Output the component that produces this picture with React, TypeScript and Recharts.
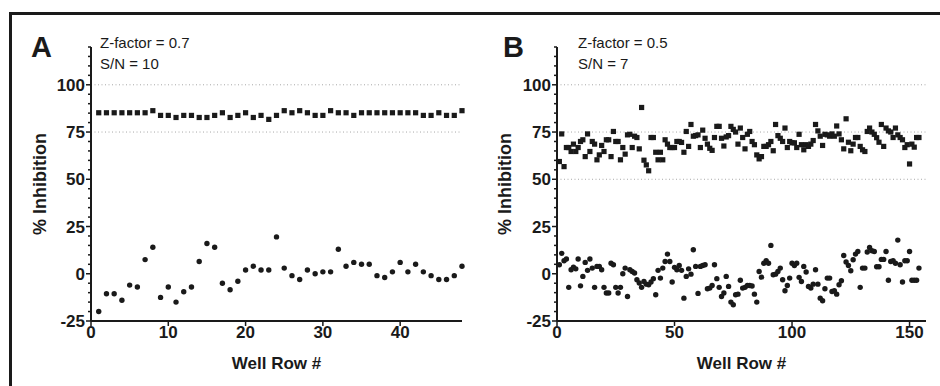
import React from 'react';
import { ScatterChart, Scatter, XAxis, YAxis, ReferenceLine } from 'recharts';

// panel A: 48 well rows
const highA = [
  85.2, 85.2, 85.2, 85.2, 85.2, 85.2, 85.2, 86.3, 83.8, 83.8,
  82.7, 83.8, 83.8, 82.7, 82.7, 83.8, 85.2, 82.7, 83.8, 85.2,
  82.7, 83.8, 81.7, 83.8, 86.3, 85.2, 86.3, 85.2, 83.8, 83.8,
  86.3, 85.2, 85.2, 83.8, 85.2, 85.2, 85.2, 85.2, 85.2, 85.2,
  85.2, 85.2, 83.8, 83.8, 85.2, 83.8, 83.8, 86.3,
];
const lowA = [
  -20, -10.6, -10.6, -14, -6, -7, 7.5, 14, -12.5, -7,
  -15, -9.5, -7, 6.5, 16, 14, -5, -8.5, -4, 2,
  4, 2, 2, 19.5, 3, -1, -3, 2, 0, 1,
  1, 13, 4, 6, 5, 5, -1, -2, 1, 6,
  1, 5, 1, -1, -3, -3, -1, 4,
];

// panel B: 154 well rows
const highB = [
  59.4, 74.0, 56.7, 66.8, 66.8, 64.7, 68.6, 64.7, 66.8, 70.0,
  70.9, 62.0, 74.0, 64.7, 70.0, 68.6, 60.3, 62.9, 67.9, 64.7,
  70.9, 70.9, 62.0, 75.3, 70.0, 70.0, 60.3, 66.8, 63.3, 73.5,
  73.8, 66.8, 72.8, 72.1, 66.1, 88.0, 60.1, 57.6, 54.5, 72.1,
  72.1, 64.3, 60.3, 64.3, 60.3, 70.9, 68.6, 66.8, 66.8, 66.8,
  70.0, 70.0, 69.5, 64.3, 75.3, 67.4, 79.0, 72.8, 73.1, 73.5,
  66.8, 76.0, 71.7, 68.6, 66.4, 65.3, 72.1, 78.0, 78.0, 71.7,
  67.6, 72.4, 73.1, 78.0, 76.4, 75.0, 68.6, 77.1, 72.1, 66.1,
  73.8, 75.3, 70.0, 68.3, 62.9, 60.8, 62.0, 67.4, 67.4, 68.3,
  70.0, 65.1, 79.0, 73.1, 71.7, 70.0, 77.1, 66.8, 70.0, 69.3,
  69.3, 66.8, 73.8, 68.3, 65.6, 68.3, 67.4, 68.6, 70.5, 79.0,
  75.6, 72.8, 67.9, 73.8, 73.5, 72.8, 74.0, 72.8, 78.2, 74.0,
  70.9, 66.1, 82.0, 69.6, 65.1, 68.6, 72.1, 72.1, 67.4, 65.6,
  64.7, 75.3, 77.1, 75.0, 73.8, 72.0, 69.6, 79.0, 67.4, 77.1,
  75.6, 75.0, 72.1, 77.1, 73.5, 72.1, 70.9, 66.8, 68.3, 58.1,
  68.6, 67.0, 72.1, 72.1,
];
const lowB = [
  4.8, 10.8, 6.9, 7.8, -7.2, 2.1, 3.5, 2.6, 7.8, -6.4,
  -1.4, 6.0, 1.8, 7.8, 3.0, -7.2, 3.9, 3.9, 2.1, -7.2,
  -10.2, -10.2, 5.6, 4.8, -7.2, -10.2, -7.2, 0, 3.0, -12.0,
  2.1, 1.2, 0.4, -3.2, -4.9, -7.2, -4.1, -5.5, -5.8, -4.4,
  -2.6, -11.1, 1.8, -2.3, 3.0, 6.5, 10.4, 6.5, -4.4, 3.4,
  2.1, 4.4, 1.8, -12.9, -1.4, 2.6, -0.2, 12.7, 3.9, -10.4,
  3.9, 4.4, 4.8, -7.9, -7.6, -6.2, 4.8, -2.6, -7.2, -12.0,
  -10.2, -1.4, -6.7, -15.0, -16.4, -11.1, -10.8, -3.4, -7.6, -7.2,
  -6.2, -6.2, -6.5, -10.8, -15.0, 1.2, -1.8, 5.6, 6.9, 5.6,
  15.0, -0.5, -0.2, 1.2, 3.0, -3.2, -9.0, -6.2, -2.3, 5.6,
  4.4, 5.6, -1.9, -4.1, 3.9, 0.9, -6.7, -7.6, -5.5, 2.1,
  -5.5, -12.9, -14.3, -7.9, -2.3, -2.3, -9.4, -9.0, -10.8, -5.8,
  -3.7, 9.7, 6.2, 4.4, 1.6, 7.4, 10.4, 11.8, -7.2, 3.0,
  3.0, 11.5, 13.9, 12.2, 11.8, 3.7, 3.7, 7.6, 7.6, 11.8,
  -3.4, 6.5, 6.9, 5.6, 17.8, 4.8, -4.4, 6.9, 6.9, 11.8,
  -3.4, -3.4, -3.4, 3.0,
];

const yTicks = [-25, -20, -15, -10, -5, 0, 5, 10, 15, 20, 25, 30, 35, 40, 45, 50, 55, 60, 65, 70, 75, 80, 85, 90, 95, 100, 105, 110, 115, 120];
const xTicksA = [0, 10, 20, 30, 40];
const xTicksB = [0, 50, 100, 150];

const FONT = '"Liberation Sans", Arial, Helvetica, sans-serif';
const INK = '#1a1a1a';

const toPoints = (vals: number[]) => vals.map((v, i) => ({ row: i + 1, val: v }));

const Square = (p: any) => <rect x={p.cx - 2.6} y={p.cy - 2.6} width={5.2} height={5.2} fill={INK} />;
const Dot = (p: any) => <circle cx={p.cx} cy={p.cy} r={2.7} fill={INK} />;

// major ticks every 25 with labels, minor ticks every 5
const YTick = (props: any) => {
  const { x, y, payload } = props;
  const major = payload.value % 25 === 0 && payload.value <= 100;
  return (
    <g>
      <line x1={x} x2={x - (major ? 5 : 3)} y1={y} y2={y} stroke={INK} strokeWidth={1.5} />
      {major && (
        <text x={x - 6} y={y} dy="0.36em" textAnchor="end" fontFamily={FONT} fontWeight="bold" fontSize={17} fill={INK}>
          {payload.value}
        </text>
      )}
    </g>
  );
};

type PanelProps = {
  high: number[];
  low: number[];
  xMax: number;
  xTicks: number[];
  guides: number[];
  marginLeft: number;
  marginRight: number;
  labelOffset: number;
};

const Panel: React.FC<PanelProps> = ({ high, low, xMax, xTicks, guides, marginLeft, marginRight, labelOffset }) => (
  <ScatterChart width={470} height={386} margin={{ top: 47, right: marginRight, bottom: 17, left: marginLeft }}>
    {guides.map((g) => (
      <ReferenceLine key={g} y={g} stroke="#a8a8a8" strokeWidth={1} strokeDasharray="1 2.5" />
    ))}
    <XAxis
      type="number"
      dataKey="row"
      domain={[0, xMax]}
      ticks={xTicks}
      interval={0}
      height={48}
      tickSize={5}
      tickMargin={0}
      axisLine={{ stroke: INK, strokeWidth: 2 }}
      tickLine={{ stroke: INK, strokeWidth: 1.5 }}
      tick={{ fill: INK, fontFamily: FONT, fontWeight: 'bold', fontSize: 17 }}
      label={{
        value: 'Well Row #',
        position: 'insideBottom',
        offset: 0,
        style: { fill: INK, fontFamily: FONT, fontWeight: 'bold', fontSize: 17 },
      }}
    />
    <YAxis
      type="number"
      dataKey="val"
      domain={[-25, 120]}
      ticks={yTicks}
      interval={0}
      width={60}
      tickSize={0}
      tickMargin={0}
      tickLine={false}
      axisLine={{ stroke: INK, strokeWidth: 2 }}
      tick={<YTick />}
      label={{
        value: '% Inhibition',
        angle: -90,
        position: 'insideLeft',
        offset: labelOffset,
        style: { textAnchor: 'middle', fill: INK, fontFamily: FONT, fontWeight: 'bold', fontSize: 18 },
      }}
    />
    <Scatter data={toPoints(high)} shape={Square} isAnimationActive={false} />
    <Scatter data={toPoints(low)} shape={Dot} isAnimationActive={false} />
  </ScatterChart>
);

const textStyle = { fontFamily: FONT, fill: INK };

export default function App() {
  return (
    <div style={{ position: 'absolute', left: 0, top: 0, width: 940, height: 386, background: '#fff', overflow: 'hidden' }}>
      <div
        style={{
          position: 'absolute',
          left: 9,
          top: 12,
          width: 940,
          height: 386,
          borderLeft: `3px solid ${INK}`,
          borderTop: `3px solid ${INK}`,
        }}
      />
      <div style={{ position: 'absolute', left: 0, top: 0 }}>
        <Panel high={highA} low={lowA} xMax={48} xTicks={xTicksA} guides={[100, 75]} marginLeft={31} marginRight={8} labelOffset={9} />
      </div>
      <div style={{ position: 'absolute', left: 470, top: 0 }}>
        <Panel high={highB} low={lowB} xMax={157} xTicks={xTicksB} guides={[100, 75, 50]} marginLeft={27} marginRight={14} labelOffset={8} />
      </div>
      <svg width={940} height={386} style={{ position: 'absolute', left: 0, top: 0, pointerEvents: 'none' }}>
        <text x={31} y={57} fontSize={29} fontWeight="bold" {...textStyle}>A</text>
        <text x={100} y={48} fontSize={15} {...textStyle}>Z-factor = 0.7</text>
        <text x={100} y={69} fontSize={15} {...textStyle}>S/N = 10</text>
        <text x={503} y={57} fontSize={29} fontWeight="bold" {...textStyle}>B</text>
        <text x={578} y={48} fontSize={15} {...textStyle}>Z-factor = 0.5</text>
        <text x={578} y={69} fontSize={15} {...textStyle}>S/N = 7</text>
      </svg>
    </div>
  );
}
